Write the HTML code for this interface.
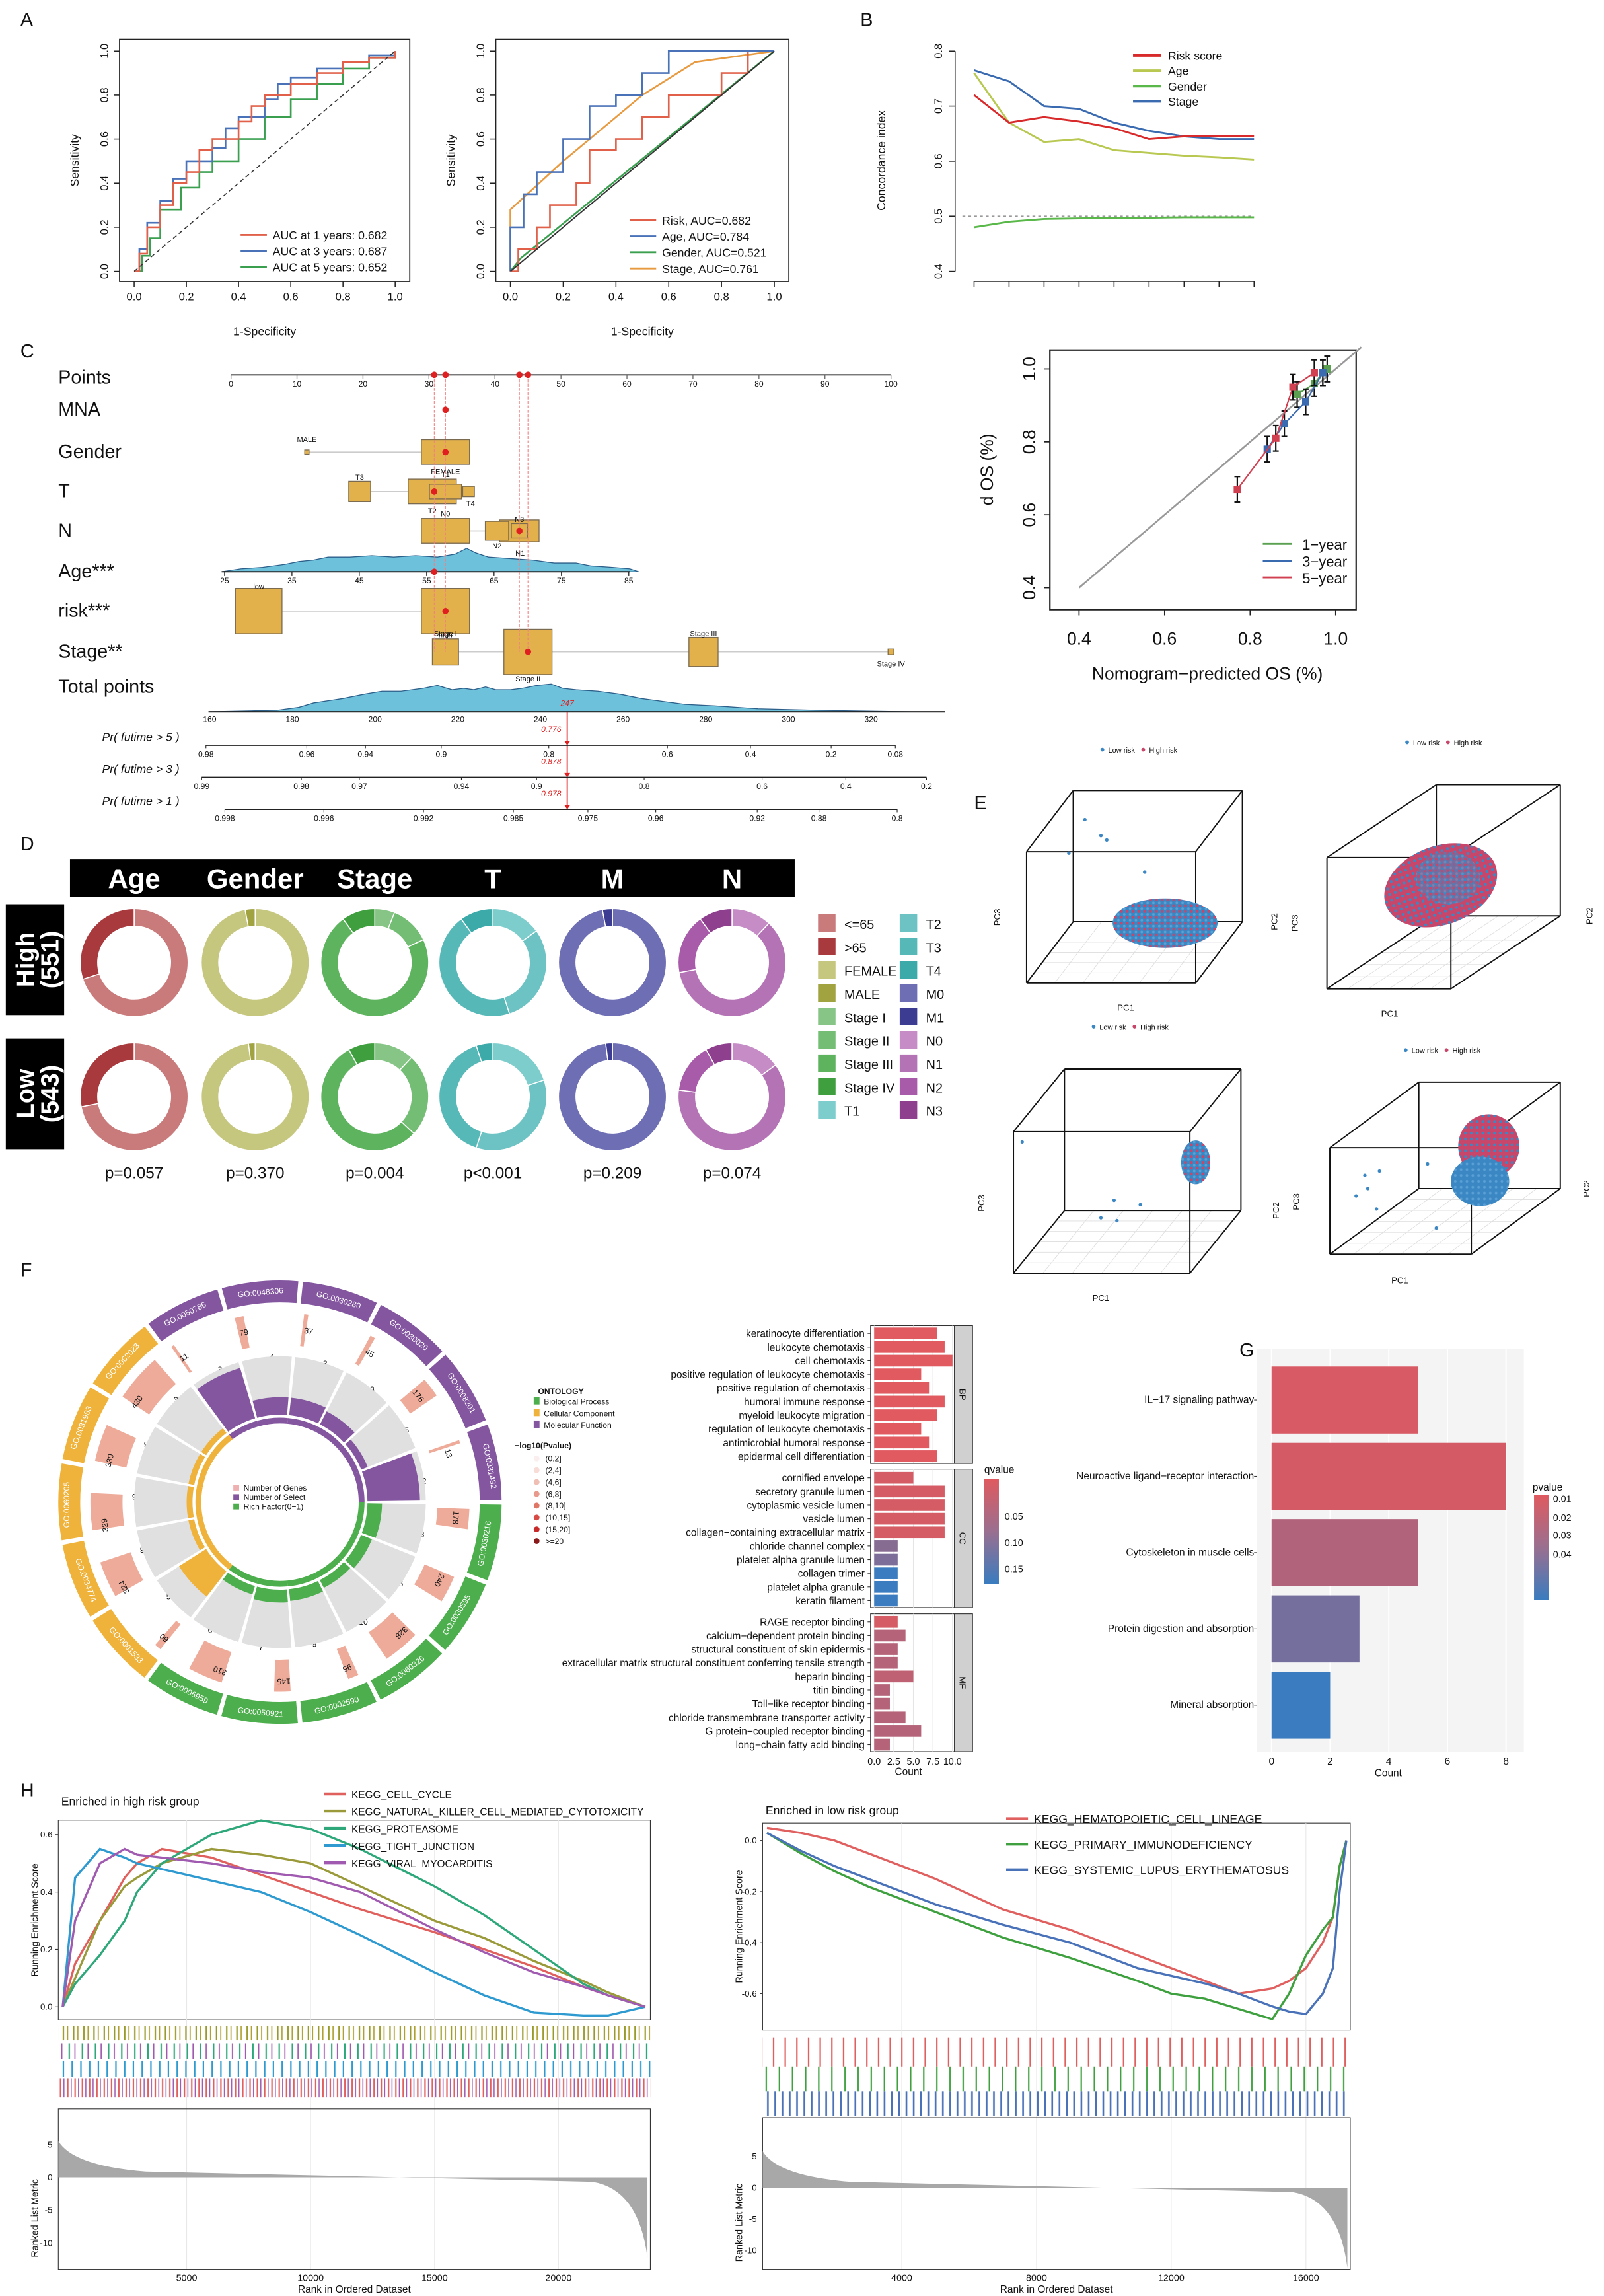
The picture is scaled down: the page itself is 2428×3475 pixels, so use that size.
<!DOCTYPE html>
<html><head><meta charset="utf-8">
<style>
html,body{margin:0;padding:0;background:#fff;}
svg{display:block;font-family:"Liberation Sans",sans-serif;}
</style></head>
<body>
<svg id="root" xmlns="http://www.w3.org/2000/svg" width="2428" height="3475" viewBox="0 0 1100 1574.3" preserveAspectRatio="none">
<defs>
<pattern id="mix" width="4" height="4" patternUnits="userSpaceOnUse"><rect width="4" height="4" fill="#3a87c4"/><circle cx="1" cy="1" r="1" fill="#c8466a"/><circle cx="3" cy="3" r="0.9" fill="#5aa0d5"/></pattern>
<pattern id="mixr" width="4" height="4" patternUnits="userSpaceOnUse"><rect width="4" height="4" fill="#c8466a"/><circle cx="1" cy="1" r="1" fill="#3a87c4"/></pattern>
<pattern id="blue" width="4" height="4" patternUnits="userSpaceOnUse"><rect width="4" height="4" fill="#3a87c4"/><circle cx="2" cy="2" r="0.9" fill="#5aa0d5"/></pattern>
<linearGradient id="qgrad" x1="0" y1="0" x2="0" y2="1"><stop offset="0" stop-color="#e05a5f"/><stop offset="0.5" stop-color="#9a6f90"/><stop offset="1" stop-color="#3a7cbf"/></linearGradient>
<pattern id="hitO" width="7" height="10" patternUnits="userSpaceOnUse"><rect x="1" width="1" height="10" fill="#9a9a2a"/><rect x="4" width="0.8" height="10" fill="#b0a030"/></pattern>
<pattern id="hitG" width="9" height="10" patternUnits="userSpaceOnUse"><rect x="2" width="1" height="10" fill="#2ea87a"/><rect x="6" width="0.8" height="10" fill="#a05ab0"/></pattern>
<pattern id="hitB" width="6" height="10" patternUnits="userSpaceOnUse"><rect x="1" width="1" height="10" fill="#2e9ad0"/></pattern>
<pattern id="hitR" width="5" height="12" patternUnits="userSpaceOnUse"><rect x="1" width="1" height="12" fill="#e0605e"/><rect x="3.5" width="0.7" height="12" fill="#a05ab0"/></pattern>
<pattern id="hitR2" width="8" height="20" patternUnits="userSpaceOnUse"><rect x="2" width="1" height="20" fill="#e06060"/></pattern>
<pattern id="hitG2" width="9" height="17" patternUnits="userSpaceOnUse"><rect x="3" width="1" height="17" fill="#3fa03f"/></pattern>
<pattern id="hitB2" width="5" height="17" patternUnits="userSpaceOnUse"><rect x="1" width="1.2" height="17" fill="#4a72b8"/></pattern>
</defs>
</svg>
<script>
// ===== DATA =====
const rocAx = [0,0.2,0.4,0.6,0.8,1.0];
const roc1yrFpr=[0,0.02,0.05,0.1,0.15,0.2,0.25,0.3,0.4,0.45,0.5,0.6,0.7,0.8,0.9,1];
const roc1yrTpr=[0,0.08,0.2,0.3,0.4,0.45,0.55,0.6,0.68,0.75,0.8,0.85,0.9,0.95,0.97,1];
const roc3yrFpr=[0,0.02,0.05,0.1,0.15,0.2,0.3,0.35,0.4,0.5,0.55,0.6,0.7,0.8,0.9,1];
const roc3yrTpr=[0,0.1,0.22,0.32,0.42,0.5,0.56,0.65,0.7,0.78,0.85,0.88,0.92,0.95,0.98,1];
const roc5yrFpr=[0,0.03,0.06,0.1,0.18,0.25,0.3,0.4,0.5,0.6,0.7,0.8,0.9,1];
const roc5yrTpr=[0,0.07,0.15,0.28,0.38,0.45,0.5,0.6,0.7,0.78,0.85,0.92,0.97,1];
const rocRiskFpr=[0,0.03,0.1,0.15,0.25,0.3,0.4,0.5,0.6,0.8,0.9,1];
const rocRiskTpr=[0,0.1,0.2,0.3,0.4,0.55,0.6,0.7,0.8,0.9,1,1];
const rocAgeFpr=[0,0,0.05,0.1,0.2,0.3,0.4,0.5,0.6,1];
const rocAgeTpr=[0,0.2,0.35,0.45,0.6,0.75,0.8,0.9,1,1];
const rocGenderFpr=[0,0.04,1];
const rocGenderTpr=[0,0.06,1];
const rocStageFpr=[0,0,0.2,0.5,0.7,1];
const rocStageTpr=[0,0.28,0.5,0.8,0.95,1];
const cindexX=[1,2,3,4,5,6,7,8,9];
const cindexRisk=[0.72,0.67,0.68,0.672,0.66,0.64,0.645,0.645,0.645];
const cindexAge=[0.76,0.67,0.635,0.64,0.62,0.615,0.61,0.607,0.603];
const cindexGender=[0.48,0.49,0.495,0.496,0.497,0.497,0.498,0.498,0.498];
const cindexStage=[0.765,0.745,0.70,0.695,0.67,0.655,0.645,0.64,0.64];
const cindexTicks=[0.4,0.5,0.6,0.7,0.8];
const calTicks=[0.4,0.6,0.8,1.0];
const cal1Pred=[0.91,0.95,0.97,0.98], cal1Obs=[0.93,0.96,0.99,1.0];
const cal3Pred=[0.84,0.88,0.93,0.97], cal3Obs=[0.78,0.85,0.91,0.99];
const cal5Pred=[0.77,0.86,0.90,0.95], cal5Obs=[0.67,0.81,0.95,0.99];
const donutVars=["Age","Gender","Stage","T","M","N"];
const donutHigh=[[0.7,0.3],[0.97,0.03],[0.06,0.12,0.72,0.10],[0.15,0.30,0.45,0.10],[0.97,0.03],[0.12,0.60,0.18,0.10]];
const donutLow=[[0.72,0.28],[0.98,0.02],[0.12,0.25,0.55,0.08],[0.20,0.35,0.40,0.05],[0.98,0.02],[0.15,0.62,0.15,0.08]];
const donutPvals=["p=0.057","p=0.370","p=0.004","p<0.001","p=0.209","p=0.074"];
const goTerms=["keratinocyte differentiation","leukocyte chemotaxis","cell chemotaxis","positive regulation of leukocyte chemotaxis","positive regulation of chemotaxis","humoral immune response","myeloid leukocyte migration","regulation of leukocyte chemotaxis","antimicrobial humoral response","epidermal cell differentiation","cornified envelope","secretory granule lumen","cytoplasmic vesicle lumen","vesicle lumen","collagen\u2212containing extracellular matrix","chloride channel complex","platelet alpha granule lumen","collagen trimer","platelet alpha granule","keratin filament","RAGE receptor binding","calcium\u2212dependent protein binding","structural constituent of skin epidermis","extracellular matrix structural constituent conferring tensile strength","heparin binding","titin binding","Toll\u2212like receptor binding","chloride transmembrane transporter activity","G protein\u2212coupled receptor binding","long\u2212chain fatty acid binding"];
const goCounts=[8,9,10,6,7,9,8,6,7,8,5,9,9,9,9,3,3,3,3,3,3,4,3,3,5,2,2,4,6,2];
const goQ=[0.02,0.02,0.02,0.02,0.02,0.02,0.02,0.02,0.02,0.02,0.03,0.03,0.03,0.03,0.03,0.10,0.11,0.17,0.17,0.17,0.03,0.06,0.06,0.06,0.05,0.06,0.06,0.06,0.06,0.06];
const goCountTicks=[0,2.5,5,7.5,10];
const keggTerms=["IL\u221217 signaling pathway","Neuroactive ligand\u2212receptor interaction","Cytoskeleton in muscle cells","Protein digestion and absorption","Mineral absorption"];
const keggCounts=[5,8,5,3,2];
const keggP=[0.005,0.006,0.015,0.03,0.045];
const keggTicks=[0,2,4,6,8];
const circIds=["GO:0050786","GO:0048306","GO:0030280","GO:0030020","GO:0008201","GO:0031432","GO:0030216","GO:0030595","GO:0060326","GO:0002690","GO:0050921","GO:0006959","GO:0001533","GO:0034774","GO:0060205","GO:0031983","GO:0062023"];
const circOnt=["MF","MF","MF","MF","MF","MF","BP","BP","BP","BP","BP","BP","CC","CC","CC","CC","CC"];
const circGenes=[11,79,37,45,176,13,178,240,328,95,145,310,60,324,329,330,430];
const circSelect=[3,4,3,3,5,2,8,6,10,9,7,6,5,9,9,9,3];
const circRich=[0.9,0.3,0.3,0.25,0.12,0.9,0.25,0.2,0.15,0.2,0.22,0.15,0.55,0.1,0.1,0.1,0.1];
const gseaRanksL=[0,500,1500,2500,3000,4000,6000,8000,10000,12000,15000,17000,19000,21000,22000,23500];
const esCellCycle=[0,0.15,0.3,0.45,0.5,0.55,0.52,0.46,0.4,0.34,0.26,0.2,0.14,0.07,0.04,0];
const esNK=[0,0.1,0.3,0.42,0.45,0.5,0.55,0.53,0.5,0.42,0.3,0.24,0.16,0.09,0.05,0];
const esProteasome=[0,0.08,0.18,0.3,0.4,0.5,0.6,0.65,0.62,0.55,0.42,0.32,0.2,0.08,0.04,0];
const esTight=[0,0.45,0.55,0.52,0.5,0.48,0.44,0.4,0.33,0.25,0.12,0.04,-0.02,-0.03,-0.03,0];
const esViral=[0,0.3,0.5,0.55,0.53,0.52,0.5,0.47,0.45,0.4,0.27,0.19,0.12,0.07,0.04,0];
const gseaRanksR=[0,1000,2000,3000,5000,7000,9000,11000,12000,13000,14000,15000,15500,16000,16500,16800,17000,17200];
const esHema=[0.05,0.03,0.0,-0.05,-0.15,-0.27,-0.35,-0.45,-0.5,-0.55,-0.6,-0.58,-0.55,-0.5,-0.4,-0.3,-0.1,0];
const esPrimary=[0.03,-0.05,-0.12,-0.18,-0.28,-0.38,-0.46,-0.55,-0.6,-0.62,-0.66,-0.7,-0.6,-0.45,-0.35,-0.3,-0.1,0];
const esSLE=[0.03,-0.04,-0.1,-0.15,-0.25,-0.33,-0.4,-0.5,-0.53,-0.56,-0.6,-0.65,-0.67,-0.68,-0.6,-0.5,-0.2,0];
const gseaTicksL=[5000,10000,15000,20000];
const gseaTicksR=[4000,8000,12000,16000];

// ===== HELPERS =====
const NS="http://www.w3.org/2000/svg";
const svg=document.getElementById('root');
function mk(tag,a,name,parent){
  const e=document.createElementNS(NS,tag);
  for(const k in a) e.setAttribute(k,a[k]);
  
  
  (parent||svg).appendChild(e);return e;
}
function T(x,y,s,sz,name,o){
  o=o||{};
  const a={x:x,y:y,'font-size':sz,fill:o.fill||'#111'};
  if(o.anchor)a['text-anchor']=o.anchor;
  if(o.weight)a['font-weight']=o.weight;
  if(o.style)a['font-style']=o.style;
  if(o.rot!==undefined)a.transform='rotate('+o.rot+' '+x+' '+y+')';
  const e=mk('text',a,name);e.textContent=s;return e;
}
function L(x1,y1,x2,y2,st,w,name,dash){
  const a={x1:x1,y1:y1,x2:x2,y2:y2,stroke:st,'stroke-width':w};
  if(dash)a['stroke-dasharray']=dash;
  return mk('line',a,name);
}
function P(d,st,w,fill,name){return mk('path',{d:d,stroke:st,'stroke-width':w,fill:fill||'none'},name);}
function poly(xs,ys,sx,sy,step){
  let d='';
  for(let i=0;i<xs.length;i++){
    const X=sx(xs[i]),Y=sy(ys[i]);
    if(i===0)d+='M'+X+' '+Y;
    else if(step){d+='L'+X+' '+sy(ys[i-1])+'L'+X+' '+Y;}
    else d+='L'+X+' '+Y;
  }
  return d;
}
function arc(cx,cy,r0,r1,a0,a1){
  const rad=a=>(a-90)*Math.PI/180;
  const p=(r,a)=>[cx+r*Math.cos(rad(a)),cy+r*Math.sin(rad(a))];
  const lg=(a1-a0)>180?1:0;
  const A=p(r1,a0),B=p(r1,a1),C=p(r0,a1),D=p(r0,a0);
  return 'M'+A+'A'+r1+' '+r1+' 0 '+lg+' 1 '+B+'L'+C+'A'+r0+' '+r0+' 0 '+lg+' 0 '+D+'Z';
}

// ===== PANEL LABELS =====
[['A',14,18],['B',590,18],['C',14,245],['D',14,583],['E',668,555],['F',14,875],['G',850,930],['H',14,1232]].forEach(l=>T(l[1],l[2],l[0],13,'panel-label-'+l[0].toLowerCase()));

// ===== PANEL A =====
function rocPanel(x0,x1,yb,yt,fx0,fy0,fx1,fy1,series,legend,lx,ly,id){
  const sx=v=>x0+v*(x1-x0), sy=v=>yb-v*(yb-yt);
  mk('rect',{x:fx0,y:fy0,width:fx1-fx0,height:fy1-fy0,fill:'none',stroke:'#222','stroke-width':0.8},id+'-frame');
  rocAx.forEach(v=>{
    L(sx(v),fy1,sx(v),fy1+4,'#222',0.7,id+'-xtick');
    T(sx(v),fy1+13,v.toFixed(1),7.5,id+'-xtick-label',{anchor:'middle'});
    L(fx0,sy(v),fx0-4,sy(v),'#222',0.7,id+'-ytick');
    T(fx0-8,sy(v),v.toFixed(1),7.5,id+'-ytick-label',{anchor:'middle',rot:-90});
  });
  T((fx0+fx1)/2,fy1+37,'1-Specificity',8,id+'-x-title',{anchor:'middle'});
  T(fx0-28,(fy0+fy1)/2,'Sensitivity',8,id+'-y-title',{anchor:'middle',rot:-90});
  series.forEach(s=>P(poly(s[0],s[1],sx,sy,s[4]),s[2],1.2,'none',id+'-curve-'+s[3]));
  legend.forEach((g,i)=>{
    L(lx,ly+i*11,lx+18,ly+i*11,g[1],1.3,id+'-legend-swatch');
    T(lx+22,ly+i*11+3,g[0],8,id+'-legend-entry');
  });
}
rocPanel(92,271,186,35,82,27,281,193,[
  [roc5yrFpr,roc5yrTpr,'#3aa050','5yr',true],[roc3yrFpr,roc3yrTpr,'#4a72b8','3yr',true],[roc1yrFpr,roc1yrTpr,'#e0604a','1yr',true]],
  [['AUC at 1 years: 0.682','#e0604a'],['AUC at 3 years: 0.687','#4a72b8'],['AUC at 5 years: 0.652','#3aa050']],165,161,'roc-time');
L(92,186,271,35,'#333',0.7,'roc-time-diagonal','3,2');
rocPanel(350,531,186,35,340,27,541,193,[
  [rocGenderFpr,rocGenderTpr,'#3aa050','gender',false],[rocStageFpr,rocStageTpr,'#e89a40','stage',false],[rocRiskFpr,rocRiskTpr,'#e0604a','risk',true],[rocAgeFpr,rocAgeTpr,'#4a72b8','age',true]],
  [['Risk, AUC=0.682','#e0604a'],['Age, AUC=0.784','#4a72b8'],['Gender, AUC=0.521','#3aa050'],['Stage, AUC=0.761','#e89a40']],432,151,'roc-clin');
L(350,186,531,35,'#333',0.9,'roc-clin-diagonal');

// ===== PANEL B =====
(function(){
  const sx=v=>668+(v-1)*(192/8), sy=v=>186-(v-0.4)*377.5;
  L(655,sy(0.8),655,sy(0.4),'#222',0.7,'cindex-y-axis');
  cindexTicks.forEach(v=>{L(655,sy(v),651,sy(v),'#222',0.7,'cindex-ytick');T(646,sy(v),v.toFixed(1),7.5,'cindex-ytick-label',{anchor:'middle',rot:-90});});
  L(668,193,860,193,'#222',0.7,'cindex-x-axis');
  cindexX.forEach(v=>L(sx(v),193,sx(v),197,'#222',0.7,'cindex-xtick'));
  T(607,110,'Concordance index',8,'cindex-y-title',{anchor:'middle',rot:-90});
  L(660,sy(0.5),860,sy(0.5),'#999',0.8,'cindex-reference-line','2,2');
  [[cindexGender,'#5ab84a','gender'],[cindexAge,'#b8c850','age'],[cindexStage,'#3a6ab0','stage'],[cindexRisk,'#d82a2a','risk']].forEach(s=>P(poly(cindexX,s[0],sx,sy),s[1],1.3,'none','cindex-line-'+s[2]));
  [['Risk score','#d82a2a'],['Age','#b8c850'],['Gender','#5ab84a'],['Stage','#3a6ab0']].forEach((g,i)=>{
    L(777,38+i*10.5,796,38+i*10.5,g[1],1.8,'cindex-legend-swatch');T(801,41+i*10.5,g[0],8,'cindex-legend-entry');});
})();

// ===== PANEL C (nomogram) =====
(function(){
  const px=v=>158.4+v*4.526;
  const rows=[['Points',259],['MNA',281],['Gender',310],['T',337],['N',364],['Age***',392],['risk***',419],['Stage**',447],['Total points',471]];
  rows.forEach(r=>T(40,r[1]+4,r[0],13,'nomogram-row-label'));
  L(px(0),257,px(100),257,'#666',1,'points-axis');
  for(let v=0;v<=100;v+=10){L(px(v),257,px(v),260,'#666',0.6,'points-tick');T(px(v),265,String(v),5.5,'points-tick-label',{anchor:'middle'});}
  const box=(cx,cy,w,h,n)=>{mk('rect',{x:cx-w/2,y:cy-h/2,width:w,height:h,fill:'#e3b14b',stroke:'#7a6a50','stroke-width':0.6},n);};
  const red=(x,y)=>mk('circle',{cx:x,cy:y,r:2.2,fill:'#e02020'},'nomogram-selected-point');
  L(px(11.5),310,px(32.5),310,'#ccc',0.8,'gender-line');box(px(11.5),310,3,3,'gender-male-box');T(px(11.5),303,'MALE',5,'gender-male-label',{anchor:'middle'});
  box(px(32.5),310,33,17,'gender-female-box');T(px(32.5),325,'FEMALE',5,'gender-female-label',{anchor:'middle'});
  L(px(19.5),337,px(36),337,'#ccc',0.8,'t-line');
  box(px(19.5),337,15,14,'t3-box');box(px(30.5),337,33,17,'t2-box');box(px(32.5),337,22,10,'t1-box');box(px(36),337,8,7,'t4-box');
  T(px(19.5),329,'T3',5,'t3-label',{anchor:'middle'});T(px(32.5),327,'T1',5,'t1-label',{anchor:'middle'});T(px(36.3),347,'T4',5,'t4-label',{anchor:'middle'});T(px(30.5),352,'T2',5,'t2-label',{anchor:'middle'});
  L(px(32.5),364,px(45.5),364,'#ccc',0.8,'n-line');
  box(px(32.5),364,33,17,'n0-box');box(px(43.7),364,27,15,'n1-box');box(px(40.3),364,16,13,'n2-box');box(px(43.7),364,11,10,'n3-box');
  T(px(32.5),354,'N0',5,'n0-label',{anchor:'middle'});T(px(43.7),358,'N3',5,'n3-label',{anchor:'middle'});T(px(40.3),376,'N2',5,'n2-label',{anchor:'middle'});T(px(43.8),381,'N1',5,'n1-label',{anchor:'middle'});
  P('M152 392L165 390L180 389L195 387L205 385L215 384L225 382L240 382L255 381L270 382L285 381L300 382L312 380L320 376L326 379L335 382L350 383L365 384L380 386L395 386L405 388L420 389L432 390L438 392Z','#2c5f8a',0.6,'#6ec1db','age-density');
  L(152,392,432,392,'#222',0.9,'age-axis');
  [25,35,45,55,65,75,85].forEach((v,i)=>{const x=154+i*46.2;L(x,392,x,395,'#222',0.6,'age-tick');T(x,400,String(v),5.5,'age-tick-label',{anchor:'middle'});});
  L(px(5),419,px(32.5),419,'#ccc',0.8,'risk-line');
  box(px(4.2),419,32,31,'risk-low-box');box(px(32.5),419,33,31,'risk-high-box');T(px(4.2),404,'low',5,'risk-low-label',{anchor:'middle'});T(px(32.5),437,'high',5,'risk-high-label',{anchor:'middle'});
  L(px(32.5),447,px(100),447,'#ccc',0.8,'stage-line');
  box(px(32.5),447,18,18,'stage-i-box');box(px(45),447,33,31,'stage-ii-box');box(px(71.6),447,20,20,'stage-iii-box');box(px(100),447,4,4,'stage-iv-box');
  T(px(32.5),436,'Stage I',5,'stage-i-label',{anchor:'middle'});T(px(45),467,'Stage II',5,'stage-ii-label',{anchor:'middle'});T(px(71.6),436,'Stage III',5,'stage-iii-label',{anchor:'middle'});T(px(100),457,'Stage IV',5,'stage-iv-label',{anchor:'middle'});
  [30.8,32.5,43.7,45].forEach(v=>L(px(v),257,px(v),447,'#f08080',0.5,'nomogram-connector','2,1'));
  [[30.8,257],[32.5,257],[43.7,257],[45,257],[32.5,281],[32.5,310],[30.8,337],[43.7,364],[30.8,392],[32.5,419],[45,447]].forEach(p=>red(px(p[0]),p[1]));
  P('M143 488L190 487L205 485L215 482L235 479L250 476L262 474L275 474L290 472L300 470L310 473L318 472L325 473L333 471L340 473L350 473L358 472L368 470L378 469L386 472L395 473L410 474L425 476L440 479L455 481L470 483L490 484L520 486L560 487L625 488Z','#2c5f8a',0.6,'#6ec1db','total-points-density');
  L(143,488,648,488,'#222',1,'total-points-axis');
  [160,180,200,220,240,260,280,300,320].forEach((v,i)=>{const x=143.8+i*56.7;T(x,495,String(v),5.5,'total-tick-label',{anchor:'middle'});});
  T(389,484,'247',5.5,'total-points-value',{anchor:'middle',fill:'#e02020',style:'italic'});
  L(389,488,389,553,'#e02020',0.8,'prediction-line');
  const prs=[['Pr( futime > 5 )',511,[['0.98',337],['0.96',502],['0.94',598],['0.9',722],['0.8',898],['0.6',1092],['0.4',1228],['0.2',1360],['0.08',1465]],337,1465,'0.776'],
    ['Pr( futime > 3 )',533,[['0.99',330],['0.98',493],['0.97',588],['0.94',755],['0.9',878],['0.8',1054],['0.6',1247],['0.4',1384],['0.2',1516]],330,1516,'0.878'],
    ['Pr( futime > 1 )',555,[['0.998',368],['0.996',530],['0.992',693],['0.985',840],['0.975',962],['0.96',1073],['0.92',1239],['0.88',1340],['0.8',1468]],368,1468,'0.978']];
  prs.forEach(p=>{
    T(70,p[1]-3,p[0],8,'probability-row-label',{style:'italic'});
    L(p[3]/2.386,p[1],p[4]/2.386,p[1],'#222',0.8,'probability-axis');
    p[2].forEach(t=>{L(t[1]/2.386,p[1],t[1]/2.386,p[1]+2,'#222',0.5,'probability-tick');T(t[1]/2.386,p[1]+8,t[0],5.5,'probability-tick-label',{anchor:'middle'});});
    T(378,p[1]-9,p[5],5.5,'probability-value',{anchor:'middle',fill:'#e02020',style:'italic'});
    P('M387 '+(p[1]-3)+'L391 '+(p[1]-3)+'L389 '+p[1]+'Z','none',0,'#e02020','probability-arrow');
  });
})();

// ===== Calibration =====
(function(){
  const sx=v=>740+(v-0.4)*293.3, sy=v=>403-(v-0.4)*250;
  mk('rect',{x:720,y:240,width:210,height:178,fill:'none',stroke:'#222','stroke-width':1},'calibration-frame');
  calTicks.forEach(v=>{L(sx(v),418,sx(v),422,'#222',0.8,'calibration-xtick');T(sx(v),442,v.toFixed(1),12,'calibration-xtick-label',{anchor:'middle'});
    L(720,sy(v),716,sy(v),'#222',0.8,'calibration-ytick');T(710,sy(v),v.toFixed(1),12,'calibration-ytick-label',{anchor:'middle',rot:-90});});
  T(828,466,'Nomogram\u2212predicted OS (%)',12,'calibration-x-title',{anchor:'middle'});
  T(681,322,'d OS (%)',12,'calibration-y-title',{anchor:'middle',rot:-90});
  L(sx(0.4),sy(0.4),sx(1.06),sy(1.06),'#999',1.2,'calibration-ideal-line');
  [[cal1Pred,cal1Obs,'#5aa050','1yr'],[cal3Pred,cal3Obs,'#3a6ab0','3yr'],[cal5Pred,cal5Obs,'#d04050','5yr']].forEach(s=>{
    P(poly(s[0],s[1],sx,sy),s[2],1,'none','calibration-line-'+s[3]);
    s[0].forEach((v,i)=>{const x=sx(v),y=sy(s[1][i]);
      L(x,sy(s[1][i]+0.035),x,sy(s[1][i]-0.035),'#111',1,'calibration-errorbar');
      L(x-2,sy(s[1][i]+0.035),x+2,sy(s[1][i]+0.035),'#111',1,'calibration-errorcap');
      L(x-2,sy(s[1][i]-0.035),x+2,sy(s[1][i]-0.035),'#111',1,'calibration-errorcap');
      mk('rect',{x:x-2.5,y:y-2.5,width:5,height:5,fill:s[2]},'calibration-point');});
  });
  [['1\u2212year','#5aa050'],['3\u2212year','#3a6ab0'],['5\u2212year','#d04050']].forEach((g,i)=>{L(866,373+i*11.5,886,373+i*11.5,g[1],1.3,'calibration-legend-swatch');T(893,377+i*11.5,g[0],10,'calibration-legend-entry');});
})();

// ===== PANEL D =====
(function(){
  const cols=[['#c97b7b','#a83a3d'],['#c6c77f','#a0a33f'],['#86c586','#74bd74','#5eb35e','#3f9f3f'],['#7dcdcd','#6dc3c3','#57b8b8','#3daaaa'],['#6e6eb5','#3c3c93'],['#c58cc5','#b473b4','#a85ba8','#8e3f8e']];
  const cx=[92,175,257,338,420,502];
  mk('rect',{x:48,y:589,width:497,height:26,fill:'#000'},'donut-header-bar');
  donutVars.forEach((v,i)=>T(cx[i],609,v,19,'donut-header-'+v.toLowerCase(),{anchor:'middle',fill:'#fff',weight:'bold'}));
  mk('rect',{x:4,y:620,width:40,height:76,fill:'#000'},'high-row-label-bg');
  mk('rect',{x:4,y:712,width:40,height:76,fill:'#000'},'low-row-label-bg');
  T(23,658,'High',17,'high-row-label',{anchor:'middle',fill:'#fff',weight:'bold',rot:-90});
  T(40,658,'(551)',17,'high-row-count',{anchor:'middle',fill:'#fff',weight:'bold',rot:-90});
  T(23,750,'Low',17,'low-row-label',{anchor:'middle',fill:'#fff',weight:'bold',rot:-90});
  T(40,750,'(543)',17,'low-row-count',{anchor:'middle',fill:'#fff',weight:'bold',rot:-90});
  [[donutHigh,660],[donutLow,752]].forEach(r=>{
    r[0].forEach((fr,i)=>{let a=0;fr.forEach((f,j)=>{
      mk('path',{d:arc(cx[i],r[1],25,37,a*360,(a+f)*360-0.01),fill:cols[i][j],stroke:'#fff','stroke-width':0.7},'donut-slice');a+=f;});});
  });
  donutPvals.forEach((p,i)=>T(cx[i],808,p,11,'donut-pvalue',{anchor:'middle'}));
  const leg=[['<=65','#c97b7b'],['>65','#a83a3d'],['FEMALE','#c6c77f'],['MALE','#a0a33f'],['Stage I','#86c586'],['Stage II','#74bd74'],['Stage III','#5eb35e'],['Stage IV','#3f9f3f'],['T1','#7dcdcd'],
    ['T2','#6dc3c3'],['T3','#57b8b8'],['T4','#3daaaa'],['M0','#6e6eb5'],['M1','#3c3c93'],['N0','#c58cc5'],['N1','#b473b4'],['N2','#a85ba8'],['N3','#8e3f8e']];
  leg.forEach((g,i)=>{const c=Math.floor(i/9),r=i%9,x=561+c*56,y=627+r*16;
    mk('rect',{x:x,y:y,width:12,height:12,fill:g[1]},'donut-legend-swatch');T(x+18,y+10,g[0],9,'donut-legend-entry');});
})();

// ===== PANEL E =====
(function(){
  function cube(fx,fy,w,h,dx,dy,id){
    const c='#111';
    for(let k=1;k<6;k++){const t=k/6;
      L(fx+w*t,fy+h,fx+w*t+dx,fy+h+dy,'#ddd',0.4,id+'-floor-grid');
      L(fx+dx*t,fy+h+dy*t,fx+w+dx*t,fy+h+dy*t,'#ddd',0.4,id+'-floor-grid');}
    [[fx,fy,fx+w,fy],[fx,fy+h,fx+w,fy+h],[fx,fy,fx,fy+h],[fx+w,fy,fx+w,fy+h],
     [fx+dx,fy+dy,fx+w+dx,fy+dy],[fx+dx,fy+dy,fx+dx,fy+h+dy],[fx+w+dx,fy+dy,fx+w+dx,fy+h+dy],[fx+dx,fy+h+dy,fx+w+dx,fy+h+dy],
     [fx,fy,fx+dx,fy+dy],[fx+w,fy,fx+w+dx,fy+dy],[fx,fy+h,fx+dx,fy+h+dy],[fx+w,fy+h,fx+w+dx,fy+h+dy]].forEach(s=>L(s[0],s[1],s[2],s[3],c,0.9,id+'-cube-edge'));
  }
  function legend(x,y,id){mk('circle',{cx:x,cy:y,r:1.3,fill:'#3a87c4'},id+'-legend-low');T(x+4,y+2,'Low risk',5,id+'-legend-low-label');
    mk('circle',{cx:x+28,cy:y,r:1.3,fill:'#c8466a'},id+'-legend-high');T(x+32,y+2,'High risk',5,id+'-legend-high-label');}
  function dots(arr,id){arr.forEach(p=>mk('circle',{cx:p[0],cy:p[1],r:1.2,fill:'#3a87c4'},id+'-outlier'));}
  // plot 1
  cube(704,584,116,90,32,-42,'pca1');legend(756,514,'pca1');
  mk('ellipse',{cx:799,cy:633,rx:36,ry:17,fill:'url(#mix)'},'pca1-point-cloud');
  dots([[744,562],[755,573],[759,576],[733,585],[785,598]],'pca1');
  T(772,693,'PC1',6,'pca1-x-title',{anchor:'middle'});T(686,629,'PC3',6,'pca1-z-title',{anchor:'middle',rot:-90});T(876,632,'PC2',6,'pca1-y-title',{anchor:'middle',rot:-90});
  // plot 2
  cube(910,588,85,90,75,-50,'pca2');legend(965,509,'pca2');
  mk('ellipse',{cx:988,cy:607,rx:40,ry:27,fill:'url(#mixr)',transform:'rotate(-20 988 607)'},'pca2-point-cloud');
  mk('ellipse',{cx:993,cy:602,rx:22,ry:18,fill:'url(#mix)',opacity:0.6},'pca2-point-cloud-low');
  T(953,697,'PC1',6,'pca2-x-title',{anchor:'middle'});T(890,633,'PC3',6,'pca2-z-title',{anchor:'middle',rot:-90});T(1092,628,'PC2',6,'pca2-y-title',{anchor:'middle',rot:-90});
  // plot 3
  cube(695,776,121,97,35,-43,'pca3');legend(750,704,'pca3');
  mk('ellipse',{cx:820,cy:797,rx:10,ry:15,fill:'url(#mix)'},'pca3-point-cloud');
  dots([[701,783],[764,823],[782,826],[755,835],[766,837]],'pca3');
  T(755,892,'PC1',6,'pca3-x-title',{anchor:'middle'});T(675,825,'PC3',6,'pca3-z-title',{anchor:'middle',rot:-90});T(877,830,'PC2',6,'pca3-y-title',{anchor:'middle',rot:-90});
  // plot 4
  cube(912,787,97,73,61,-45,'pca4');legend(964,720,'pca4');
  mk('ellipse',{cx:1021,cy:786,rx:21,ry:22,fill:'url(#mixr)'},'pca4-point-cloud-high');
  mk('ellipse',{cx:1015,cy:810,rx:20,ry:17,fill:'url(#blue)'},'pca4-point-cloud-low');
  dots([[938,815],[946,803],[944,829],[979,798],[985,842],[930,820],[936,806]],'pca4');
  T(960,880,'PC1',6,'pca4-x-title',{anchor:'middle'});T(891,824,'PC3',6,'pca4-z-title',{anchor:'middle',rot:-90});T(1090,815,'PC2',6,'pca4-y-title',{anchor:'middle',rot:-90});
})();

// ===== PANEL F circle =====
(function(){
  const cx=192,cy=1030,n=circIds.length,w=360/n,start=-37;
  const col={MF:'#8456a0',BP:'#4cae4c',CC:'#efb23a'};
  circIds.forEach((id,i)=>{
    const a0=start+i*w,a1=a0+w,c=col[circOnt[i]];
    mk('path',{d:arc(cx,cy,137,152,a0+0.6,a1-0.6),fill:c},'circ-outer-sector');
    const mid=(a0+a1)/2, r=144.5, rad=(mid-90)*Math.PI/180;
    T(cx+r*Math.cos(rad),cy+r*Math.sin(rad)+2,id,5.5,'circ-sector-label',{anchor:'middle',fill:'#fff',rot:mid>90&&mid<270?mid+180:mid});
    const gw=circGenes[i]/430*w*0.7;
    mk('path',{d:arc(cx,cy,108,130,a0+2,a0+2+Math.max(gw,1)),fill:'#eeab9a'},'circ-gene-count-bar');
    const rr=119,ra=(a0+4-90)*Math.PI/180;
    T(cx+rr*Math.cos(ra),cy+rr*Math.sin(ra)+2,String(circGenes[i]),5.5,'circ-gene-count-label',{anchor:'middle',rot:a0+4});
    const sa=(a0+w*0.6-90)*Math.PI/180;
    T(cx+100*Math.cos(sa),cy+100*Math.sin(sa)+2,String(circSelect[i]),5.5,'circ-select-count-label',{anchor:'middle'});
    mk('path',{d:arc(cx,cy,60,100,a0+0.7,a1-0.7),fill:'#e0e0e0'},'circ-gray-sector');
    mk('path',{d:arc(cx,cy,60,60+circRich[i]*40,a0+0.7,a1-0.7),fill:c},'circ-rich-factor-bar');
    mk('path',{d:arc(cx,cy,54,58,a0,a1),fill:c},'circ-inner-ring');
  });
  [['Number of Genes','#eeb0b0'],['Number of Select','#8456a0'],['Rich Factor(0\u22121)','#4cae4c']].forEach((g,i)=>{
    mk('rect',{x:160,y:1018+i*6.5,width:4,height:4,fill:g[1]},'circ-center-legend-swatch');T(167,1022+i*6.5,g[0],5.5,'circ-center-legend-entry');});
  T(369,956,'ONTOLOGY',5.5,'ontology-legend-title',{weight:'bold'});
  [['Biological Process','#4cae4c'],['Cellular Component','#efb23a'],['Molecular Function','#8456a0']].forEach((g,i)=>{
    mk('rect',{x:366,y:958+i*8,width:4,height:5,fill:g[1]},'ontology-legend-swatch');T(373,963+i*8,g[0],5.5,'ontology-legend-entry');});
  T(353,993,'\u2212log10(Pvalue)',5.5,'pvalue-legend-title',{weight:'bold'});
  [['(0,2]','#fbeeee'],['(2,4]','#f7dcd8'],['(4,6]','#f0bfb4'],['(6,8]','#e89a8c'],['(8,10]','#e07666'],['(10,15]','#d84a44'],['(15,20]','#c82a2a'],['>=20','#8a1a1a']].forEach((g,i)=>{
    mk('circle',{cx:368,cy:1000+i*8.1,r:2,fill:g[1]},'pvalue-legend-swatch');T(374,1002+i*8.1,g[0],5.5,'pvalue-legend-entry');});
})();

// ===== PANEL F bar chart =====
(function(){
  const x0=599.5,k=5.37;
  const panels=[[909,1003.5,'BP'],[1007.4,1102.2,'CC'],[1106.6,1201,'MF']];
  panels.forEach(p=>{mk('rect',{x:597,y:p[0],width:57.5,height:p[1]-p[0],fill:'#fff',stroke:'#333','stroke-width':0.5},'go-facet-panel-'+p[2].toLowerCase());
    goCountTicks.forEach(v=>L(x0+v*k,p[0],x0+v*k,p[1],'#e5e5e5',0.5,'go-gridline'));
    mk('rect',{x:654.5,y:p[0],width:12.5,height:p[1]-p[0],fill:'#d0d0d0',stroke:'#333','stroke-width':0.5},'go-facet-strip-'+p[2].toLowerCase());
    T(658,(p[0]+p[1])/2,p[2],6,'go-facet-label',{anchor:'middle',rot:90});});
  const qc=q=>{const t=Math.min(1,Math.max(0,(q-0.02)/0.15));const r=Math.round(224+(58-224)*t),g=Math.round(90+(124-90)*t),b=Math.round(95+(191-95)*t);return 'rgb('+r+','+g+','+b+')';};
  goTerms.forEach((t,i)=>{
    const pi=Math.floor(i/10),j=i%10,top=[914.3,1013.3,1112.1][pi],y=top+j*9.35;
    mk('rect',{x:x0,y:y-4,width:goCounts[i]*k,height:8,fill:qc(goQ[i])},'go-bar');
    L(595,y,597,y,'#333',0.5,'go-ytick');
    T(593,y+2.5,t,7,'go-term-label',{anchor:'end'});
  });
  goCountTicks.forEach(v=>{T(x0+v*k,1210,String(v.toFixed(1)),6.5,'go-xtick-label',{anchor:'middle'});});
  T(623,1217,'Count',7,'go-x-title',{anchor:'middle'});
  T(675,1010,'qvalue',7,'go-legend-title');
  mk('rect',{x:675,y:1014,width:10,height:72,fill:'url(#qgrad)'},'go-legend-gradient');
  [['0.05',1040],['0.10',1058],['0.15',1076]].forEach(g=>T(689,g[1]+2,g[0],6.5,'go-legend-tick-label'));
})();

// ===== PANEL G =====
(function(){
  const x0=872,k=20.1;
  mk('rect',{x:862,y:925,width:183,height:276,fill:'#f4f4f4'},'kegg-panel-bg');
  keggTicks.forEach(v=>L(x0+v*k,925,x0+v*k,1201,'#fff',0.9,'kegg-gridline'));
  const pc=p=>{const t=Math.min(1,(p-0.005)/0.04);const r=Math.round(216+(58-216)*t),g=Math.round(90+(124-90)*t),b=Math.round(100+(191-100)*t);return 'rgb('+r+','+g+','+b+')';};
  keggTerms.forEach((t,i)=>{const y=960+i*52.3;
    mk('rect',{x:x0,y:y-23,width:keggCounts[i]*k,height:46,fill:pc(keggP[i])},'kegg-bar');
    T(860,y+2,t,7,'kegg-term-label',{anchor:'end'});L(860,y,862,y,'#333',0.5,'kegg-ytick');});
  keggTicks.forEach(v=>T(x0+v*k,1210,String(v),7,'kegg-xtick-label',{anchor:'middle'}));
  T(952,1218,'Count',7,'kegg-x-title',{anchor:'middle'});
  T(1051,1022,'pvalue',7,'kegg-legend-title');
  mk('rect',{x:1052,y:1025,width:10,height:72,fill:'url(#qgrad)'},'kegg-legend-gradient');
  [['0.01',1028],['0.02',1041],['0.03',1053],['0.04',1066]].forEach(g=>T(1065,g[1]+2,g[0],6.5,'kegg-legend-tick-label'));
})();

// ===== PANEL H =====
function gsea(o){
  const sx=r=>o.x0+r*o.kx, sy=v=>o.y0-v*o.ky;
  mk('rect',{x:o.fx0,y:o.fy0,width:o.fx1-o.fx0,height:o.esB-o.fy0,fill:'#fff',stroke:'#333','stroke-width':0.5},o.id+'-es-frame');
  o.xticks.forEach(t=>L(sx(t),o.fy0,sx(t),o.rankB,'#e8e8e8',0.5,o.id+'-gridline'));
  o.esTicks.forEach(v=>{L(o.fx0-2,sy(v),o.fx0,sy(v),'#333',0.5,o.id+'-es-ytick');T(o.fx0-4,sy(v)+2,v.toFixed(1),6,o.id+'-es-ytick-label',{anchor:'end'});});
  T(o.fx0-14,(o.fy0+o.esB)/2,'Running Enrichment Score',6.5,o.id+'-es-y-title',{anchor:'middle',rot:-90});
  o.series.forEach(s=>P(poly(o.ranks,s[0],sx,sy),s[1],1.5,'none',o.id+'-es-curve-'+s[2]));
  o.hits.forEach(h=>mk('rect',{x:o.fx0,y:h[0],width:o.fx1-o.fx0,height:h[1],fill:h[2]},o.id+'-hit-row'));
  mk('rect',{x:o.fx0,y:o.hitB,width:o.fx1-o.fx0,height:o.rankB-o.hitB,fill:'none',stroke:'#333','stroke-width':0.5},o.id+'-rank-frame');
  const z=o.rz;
  P('M'+o.fx0+' '+z+'L'+o.fx0+' '+(z-25)+'Q'+(o.fx0+10)+' '+(z-8)+' '+(o.fx0+60)+' '+(z-4)+'L'+(o.fx1-40)+' '+(z+3)+'Q'+(o.fx1-8)+' '+(z+8)+' '+(o.fx1-2)+' '+(z+55)+'L'+(o.fx1-2)+' '+z+'Z','none',0,'#a8a8a8',o.id+'-ranked-metric-area');
  o.rTicks.forEach(t=>{T(o.fx0-4,z-t*o.rk+2,String(t),6,o.id+'-rank-ytick-label',{anchor:'end'});});
  T(o.fx0-14,(o.hitB+o.rankB)/2+20,'Ranked List Metric',6.5,o.id+'-rank-y-title',{anchor:'middle',rot:-90});
  o.xticks.forEach(t=>T(sx(t),o.rankB+8,String(t),6.5,o.id+'-xtick-label',{anchor:'middle'}));
  T((o.fx0+o.fx1)/2,o.rankB+16,'Rank in Ordered Dataset',7,o.id+'-x-title',{anchor:'middle'});
  T(o.fx0+2,o.titleY,o.title,8,o.id+'-title');
  o.legend.forEach((g,i)=>{L(o.lx,o.ly+i*o.ls,o.lx+15,o.ly+i*o.ls,g[1],2,o.id+'-legend-swatch');T(o.lx+19,o.ly+i*o.ls+3,g[0],o.lfs,o.id+'-legend-entry');});
}
gsea({id:'gsea-high',x0:43,kx:0.017,y0:1376,ky:196.7,fx0:40,fx1:446,fy0:1248,esB:1385,hitB:1446,rankB:1556,rz:1493,rk:4.5,
  ranks:gseaRanksL,xticks:gseaTicksL,esTicks:[0,0.2,0.4,0.6],rTicks:[5,0,-5,-10],
  series:[[esCellCycle,'#e0605e','cell-cycle'],[esNK,'#9a9a3a','nk'],[esProteasome,'#2ea87a','proteasome'],[esTight,'#2e9ad0','tight-junction'],[esViral,'#a05ab0','viral']],
  hits:[[1389,10,'url(#hitO)'],[1401,11,'url(#hitG)'],[1413,11,'url(#hitB)'],[1425,13,'url(#hitR)']],
  title:'Enriched in high risk group',titleY:1238,legend:[['KEGG_CELL_CYCLE','#e0605e'],['KEGG_NATURAL_KILLER_CELL_MEDIATED_CYTOTOXICITY','#9a9a3a'],['KEGG_PROTEASOME','#2ea87a'],['KEGG_TIGHT_JUNCTION','#2e9ad0'],['KEGG_VIRAL_MYOCARDITIS','#a05ab0']],lx:222,ly:1230,ls:11.8,lfs:7});
gsea({id:'gsea-low',x0:526,kx:0.0231,y0:1262,ky:175,fx0:523,fx1:926,fy0:1250,esB:1392,hitB:1452,rankB:1556,rz:1500,rk:4.3,
  ranks:gseaRanksR,xticks:gseaTicksR,esTicks:[0,-0.2,-0.4,-0.6],rTicks:[5,0,-5,-10],
  series:[[esHema,'#e06060','hematopoietic'],[esPrimary,'#3fa03f','primary-immunodeficiency'],[esSLE,'#4a72b8','sle']],
  hits:[[1397,20,'url(#hitR2)'],[1417,17,'url(#hitG2)'],[1434,17,'url(#hitB2)']],
  title:'Enriched in low risk group',titleY:1244,legend:[['KEGG_HEMATOPOIETIC_CELL_LINEAGE','#e06060'],['KEGG_PRIMARY_IMMUNODEFICIENCY','#3fa03f'],['KEGG_SYSTEMIC_LUPUS_ERYTHEMATOSUS','#4a72b8']],lx:690,ly:1247,ls:17.5,lfs:8});
</script>
</body></html>
